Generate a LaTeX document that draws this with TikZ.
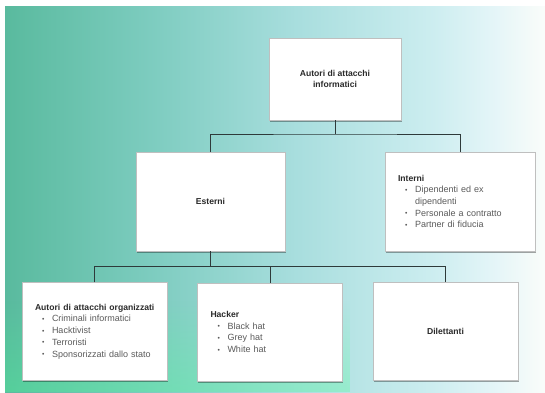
\documentclass[tikz,border=0pt]{standalone}
\usepackage{fontspec}
\setmainfont{Liberation Sans}
\usetikzlibrary{shadows,fadings}
\definecolor{linec}{HTML}{2E3A3A}
\definecolor{headc}{HTML}{2A2A2A}
\definecolor{itemc}{HTML}{5A5A5A}
\pgfdeclarehorizontalshading{bgshade}{100bp}{
  rgb(0bp)=(0.35,0.73,0.62);
  rgb(25bp)=(0.35,0.73,0.62);
  rgb(38.5bp)=(0.49,0.80,0.75);
  rgb(52bp)=(0.66,0.87,0.87);
  rgb(64.5bp)=(0.80,0.93,0.94);
  rgb(70bp)=(0.89,0.96,0.97);
  rgb(75bp)=(0.98,0.99,0.98);
  rgb(100bp)=(0.98,0.99,0.98)}
\newcommand\itm{\hspace*{7pt}\makebox[10pt][l]{\raisebox{0.6pt}{\scalebox{0.75}{\textbullet}}}}
\newcommand\ind{\hspace*{17pt}}
\newcommand\hd[1]{\mbox{\textcolor{headc}{\fontsize{8.6}{11.7}\selectfont\bfseries #1}}}
\begin{document}
\begin{tikzpicture}[x=1pt,y=-1pt,
  box/.style={draw=black!25,line width=0.4pt,fill=white,
    drop shadow={shadow xshift=0.6pt,shadow yshift=-1.6pt,opacity=0.35,fill=black},
    font=\fontsize{9}{11.7}\selectfont,inner xsep=13pt,inner ysep=0pt},
  listbox/.style={box,align=left,text width=#1},
  conn/.style={draw=linec,line width=0.9pt}]
\useasboundingbox (0,0) rectangle (545,392);
\fill[white] (0,0) rectangle (545,392);
\shade[shading=bgshade] (5,6) rectangle (545,392);
\fill[green!60!cyan!70!white,opacity=0.3,path fading=north] (5,300) rectangle (350,392);
% boxes
\node[box,minimum width=132pt,minimum height=82pt,align=center] (top) at (335,79)
  {\hd{Autori di attacchi}\\\hd{informatici}};
\node[box,minimum width=149pt,minimum height=99pt] (est) at (210.5,201.5) {\hd{Esterni}};
\node[listbox=124pt,minimum height=99pt,text=itemc] (int) at (460,201.5)
  {\hd{Interni}\\
   \itm Dipendenti ed ex\\
   \ind dipendenti\\
   \itm Personale a contratto\\
   \itm Partner di fiducia};
\node[listbox=119pt,minimum height=98pt,text=itemc] (org) at (94.5,331.5)
  {\hd{Autori di attacchi organizzati}\\
   \itm Criminali informatici\\
   \itm Hacktivist\\
   \itm Terroristi\\
   \itm Sponsorizzati dallo stato};
\node[listbox=119pt,minimum height=98pt,text=itemc] (hack) at (270,332)
  {\hd{Hacker}\\
   \itm Black hat\\
   \itm Grey hat\\
   \itm White hat};
\node[box,minimum width=145pt,minimum height=98pt] (dil) at (445.5,331.5) {\hd{Dilettanti}};
% connectors
\coordinate (j1) at (335,134);
\coordinate (j2) at (210.5,266);
\draw[conn] (top.south) -- (j1);
\draw[conn] (est.north) |- (j1) -| (int.north);
\draw[conn] (est.south) -- (j2);
\draw[conn] (org.north) |- (j2) -| (dil.north);
\draw[conn] (hack.north) -- (hack.north |- j2);
\end{tikzpicture}
\end{document}
